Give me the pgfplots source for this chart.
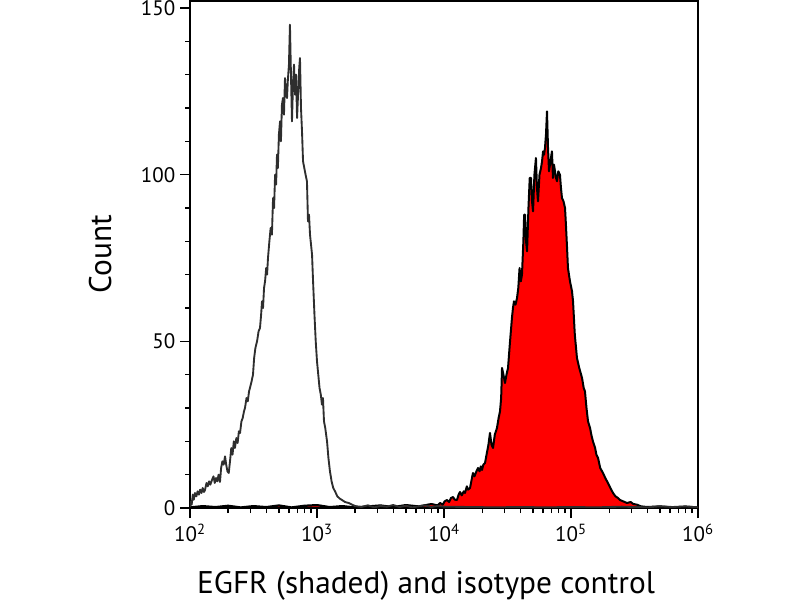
\documentclass[border=0pt]{standalone}
\usepackage{fontspec}
\setmainfont{PT Sans}
\usepackage{pgfplots}
\pgfplotsset{compat=1.18}
\definecolor{iso}{HTML}{2E2E2E}
\begin{document}
\begin{tikzpicture}
\useasboundingbox (0,0) rectangle (600pt,450pt);
\begin{axis}[
  at={(142.5pt,69pt)}, anchor=south west,
  scale only axis, width=381pt, height=380.25pt,
  xmin=2, xmax=6, ymin=0, ymax=152.1,
  axis line style={line width=1.5pt},
  tick align=outside, xtick pos=bottom, ytick pos=left,
  major tick length=7.5pt, minor tick length=3.75pt,
  every tick/.style={line width=1.1pt, black},
  xtick={2,3,4,5,6},
  xticklabels={10\textsuperscript{2},10\textsuperscript{3},10\textsuperscript{4},10\textsuperscript{5},10\textsuperscript{6}},
  minor xtick={2.30103,2.47712,2.60206,2.69897,2.77815,2.84510,2.90309,2.95424,
               3.30103,3.47712,3.60206,3.69897,3.77815,3.84510,3.90309,3.95424,
               4.30103,4.47712,4.60206,4.69897,4.77815,4.84510,4.90309,4.95424,
               5.30103,5.47712,5.60206,5.69897,5.77815,5.84510,5.90309,5.95424},
  ytick={0,50,100,150},
  minor ytick={10,20,30,40,60,70,80,90,110,120,130,140},
  /pgf/number format/assume math mode=true,
  tick label style={font=\fontsize{15.75}{18}\selectfont},
  xticklabel style={yshift=-1pt},
  xlabel={EGFR (shaded) and isotype control},
  ylabel={Count},
  label style={font=\fontsize{23.5}{28}\selectfont},
  xlabel style={at={(axis description cs:0.4646,-0.1677)}, anchor=base},
  ylabel style={at={(axis description cs:-0.177,0.501)}, anchor=center, rotate=0},
]
% EGFR (shaded)
\addplot[draw=black, line width=1.5pt, fill=red, line join=round] coordinates {
(2.0,0.2)(2.1,0.6)(2.2,0.3)(2.3,0.7)(2.4,0.2)(2.5,0.6)(2.6,0.3)(2.7,0.8)(2.8,0.2)(2.9,0.7)
(3.0,0.9)(3.1,0.3)(3.2,0.6)(3.3,0.2)(3.4,0.5)(3.5,0.8)(3.6,0.3)(3.7,0.9)(3.8,0.5)(3.9,1.2)(3.95,0.8)
(3.969,1.5)(3.99,1)(4.005,2)(4.024,2.4)(4.04,1.8)(4.055,3)(4.071,3.3)(4.085,2.5)(4.102,2.4)
(4.115,4)(4.126,4.8)(4.14,3.8)(4.155,5)(4.165,4.5)(4.18,6.5)(4.19,5.5)(4.205,6)(4.215,8)
(4.228,10.5)(4.24,9.5)(4.255,11)(4.268,12)(4.28,11)(4.29,12.5)(4.299,11.4)(4.31,13)(4.323,13.5)
(4.335,16)(4.35,19)(4.362,22.5)(4.374,19)(4.386,18)(4.40,22)(4.417,24)(4.43,27)(4.441,29)
(4.450,33)(4.457,42)(4.468,40)(4.480,37.5)(4.492,40)(4.504,42)(4.52,50)(4.535,57)(4.543,60)
(4.551,62)(4.563,61)(4.575,63)(4.585,66)(4.595,72)(4.605,68)(4.614,70)(4.625,80)(4.631,88)
(4.638,88)(4.646,80)(4.654,77)(4.665,90)(4.675,99)(4.685,99)(4.693,92)(4.701,89)(4.712,100)
(4.724,105)(4.732,96)(4.740,92)(4.752,100)(4.764,102)(4.772,104)(4.780,107)(4.788,106)(4.795,108)
(4.803,112)(4.811,119)(4.819,108)(4.827,101)(4.838,104)(4.850,107)(4.858,99)(4.866,103)(4.874,101)
(4.882,99)(4.890,98)(4.900,101)(4.913,100)(4.921,96)(4.929,93)(4.941,92)(4.953,90)(4.960,85)
(4.969,78)(4.976,72)(4.992,68)(5.008,65)(5.016,62)(5.03,52)(5.047,45)(5.065,42)(5.087,39)
(5.10,36)(5.110,35)(5.122,30)(5.134,26)(5.150,24)(5.160,22)(5.173,20)(5.19,18)(5.20,16)
(5.213,15)(5.23,12)(5.252,10.5)(5.27,9)(5.291,7.5)(5.31,6)(5.331,4.5)(5.35,3.5)(5.37,3)
(5.386,2.4)(5.41,2)(5.441,1.5)(5.47,1.8)(5.49,1.2)(5.520,1)(5.55,0.5)(5.6,0.3)(5.7,0.5)
(5.8,0.2)(5.9,0.4)(6.0,0.2)
} \closedcycle;
% isotype control
\addplot[draw=iso, line width=1.4pt, line join=round] coordinates {
(2.000,0.3)(2.008,2)(2.013,1)(2.022,4)(2.030,2.5)(2.039,4.5)(2.05,3.5)(2.06,5)(2.07,4)(2.08,5.5)
(2.09,4.5)(2.10,6)(2.11,4.8)(2.118,5.4)(2.13,7.5)(2.14,6.5)(2.15,8)(2.16,7)(2.173,8.4)(2.185,9.5)
(2.195,7.5)(2.205,9)(2.215,8)(2.225,10)(2.236,7.8)(2.245,12)(2.255,14)(2.265,13)(2.276,15.5)
(2.285,13)(2.295,11)(2.305,10.5)(2.315,14)(2.325,18)(2.335,16)(2.345,20)(2.354,18)(2.365,21)
(2.375,19.5)(2.385,23)(2.394,22.5)(2.405,26)(2.415,27)(2.425,29)(2.433,30)(2.445,33)(2.455,32)
(2.465,35)(2.472,36)(2.485,38)(2.496,40)(2.505,45)(2.515,48)(2.528,50)(2.54,53)(2.551,54)
(2.56,58)(2.567,62)(2.575,60)(2.583,66)(2.591,68)(2.60,72)(2.607,70)(2.614,75)(2.625,80)
(2.635,84)(2.645,82)(2.654,93)(2.662,90)(2.670,100)(2.678,97)(2.685,106)(2.692,102)(2.700,112)
(2.709,116)(2.716,110)(2.724,121)(2.732,123)(2.740,118)(2.748,129)(2.756,124)(2.764,123)
(2.770,128)(2.779,133)(2.787,145)(2.795,130)(2.803,116)(2.811,127)(2.819,133)(2.827,124)
(2.835,130)(2.843,117)(2.852,125)(2.860,132)(2.866,135)(2.874,120)(2.882,113)(2.890,104)
(2.900,102)(2.910,100)(2.921,98)(2.929,86)(2.937,88)(2.945,82)(2.953,79)(2.961,76)(2.969,68)
(2.980,58)(2.990,50)(3.000,44)(3.010,40)(3.020,36)(3.030,34)(3.039,31)(3.047,33)(3.055,26)
(3.065,24)(3.072,22)(3.079,20)(3.09,15)(3.102,11)(3.115,8)(3.128,6)(3.142,5)(3.16,3.5)
(3.18,2.8)(3.197,2.4)(3.22,1.8)(3.25,1.5)(3.276,1)(3.30,0.6)(3.35,0.3)(3.4,0.8)(3.45,0.2)
(3.5,0.6)(3.55,0.4)(3.6,0.9)(3.65,0.3)(3.7,0.7)(3.75,0.2)(3.8,0.5)(3.85,0.8)(3.9,0.3)
(3.95,0.6)(4.0,0.4)(4.2,0.3)(4.4,0.2)(4.6,0.3)(4.8,0.2)(5.0,0.3)(5.2,0.2)(5.4,0.4)(5.6,0.2)
(5.7,0.5)(5.8,0.3)(5.9,0.5)(6.0,0.2)
};
\end{axis}
\end{tikzpicture}
\end{document}
